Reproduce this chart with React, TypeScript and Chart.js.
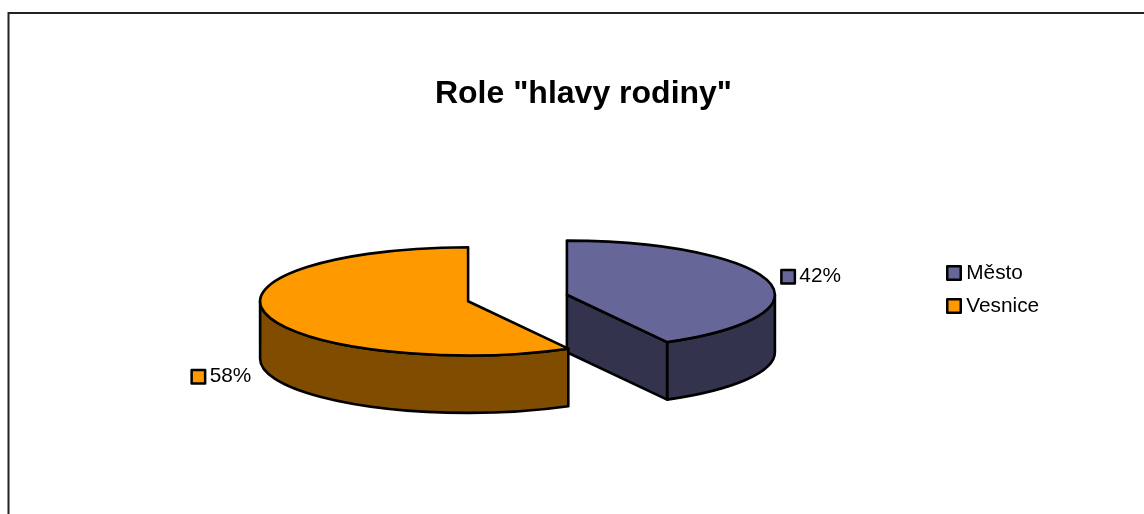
import React, { useEffect, useRef } from "react";
import { Chart, registerables } from "chart.js";

Chart.register(...registerables);

const categories = ["Město", "Vesnice"];
const shares = [42, 58];
const topColors = ["#666699", "#FF9900"];
const wallColors = ["#33334D", "#7F4C00"];
const titleText = 'Role "hlavy rodiny"';
const FONT = '"Liberation Sans", Arial, sans-serif';

const RADIUS = 208;
const SQUASH = 0.26;
const DEPTH = 57.5;
const EXPLODE = 51;
const PIE_X = 517.5;
const PIE_Y = 298;
const OUTLINE = 2.6;
const labelAnchors = [
  { dx: 13, dy: -4.5 },
  { dx: -75, dy: 62 },
];
const legendAnchor = { x: 947.25, y: 273, step: 33 };

let layoutY = 0;

function marker(ctx: CanvasRenderingContext2D, x: number, y: number, color: string) {
  ctx.fillStyle = color;
  ctx.strokeStyle = "#000";
  ctx.lineWidth = 2.5;
  ctx.fillRect(x, y - 6.75, 13.5, 13.5);
  ctx.strokeRect(x, y - 6.75, 13.5, 13.5);
}

const pie3d = {
  id: "pie3d",
  beforeDraw(chart: any) {
    const { ctx, width, height } = chart;
    ctx.save();
    ctx.fillStyle = "#fff";
    ctx.fillRect(0, 0, width, height);
    ctx.strokeStyle = "#222";
    ctx.lineWidth = 2;
    ctx.strokeRect(8.5, 13, width + 20, height + 20);
    ctx.restore();
  },
  afterDatasetsUpdate(chart: any) {
    const arcs = chart.getDatasetMeta(0).data;
    arcs.forEach((arc: any) => {
      if (arc.$exploded) return;
      layoutY = arc.y;
      const mid = (arc.startAngle + arc.endAngle) / 2;
      arc.x = PIE_X + EXPLODE * Math.cos(mid);
      arc.y = layoutY + EXPLODE * Math.sin(mid);
      arc.$exploded = true;
    });
  },
  beforeDatasetsDraw(chart: any) {
    const { ctx } = chart;
    const arcs = chart.getDatasetMeta(0).data;
    ctx.save();
    ctx.strokeStyle = "#000";
    ctx.lineWidth = OUTLINE;
    ctx.lineJoin = "round";
    arcs.forEach((arc: any, i: number) => {
      const sx = arc.x;
      const sy = PIE_Y + SQUASH * (arc.y - layoutY);
      const rx = arc.outerRadius;
      const ry = rx * SQUASH;
      ctx.fillStyle = wallColors[i];
      const a0 = Math.max(arc.startAngle, 0);
      const a1 = Math.min(arc.endAngle, Math.PI);
      if (a1 > a0) {
        ctx.beginPath();
        ctx.ellipse(sx, sy, rx, ry, 0, a0, a1);
        ctx.ellipse(sx, sy + DEPTH, rx, ry, 0, a1, a0, true);
        ctx.closePath();
        ctx.fill();
        ctx.stroke();
      }
      if (Math.cos(arc.endAngle) > 1e-6) {
        const px = sx + rx * Math.cos(arc.endAngle);
        const py = sy + ry * Math.sin(arc.endAngle);
        ctx.beginPath();
        ctx.moveTo(sx, sy);
        ctx.lineTo(px, py);
        ctx.lineTo(px, py + DEPTH);
        ctx.lineTo(sx, sy + DEPTH);
        ctx.closePath();
        ctx.fill();
        ctx.stroke();
      }
    });
    ctx.restore();
    ctx.save();
    ctx.translate(0, PIE_Y);
    ctx.scale(1, SQUASH);
    ctx.translate(0, -layoutY);
  },
  afterDatasetsDraw(chart: any) {
    const { ctx } = chart;
    ctx.restore();
    const arcs = chart.getDatasetMeta(0).data;
    ctx.save();
    ctx.strokeStyle = "#000";
    ctx.lineWidth = OUTLINE;
    ctx.lineJoin = "round";
    arcs.forEach((arc: any) => {
      const sx = arc.x;
      const sy = PIE_Y + SQUASH * (arc.y - layoutY);
      ctx.beginPath();
      ctx.moveTo(sx, sy);
      ctx.ellipse(sx, sy, arc.outerRadius, arc.outerRadius * SQUASH, 0, arc.startAngle, arc.endAngle);
      ctx.closePath();
      ctx.stroke();
    });
    ctx.font = `20.8px ${FONT}`;
    ctx.textBaseline = "middle";
    arcs.forEach((arc: any, i: number) => {
      const mid = (arc.startAngle + arc.endAngle) / 2;
      const sx = arc.x + arc.outerRadius * Math.cos(mid);
      const sy = PIE_Y + SQUASH * (arc.y - layoutY) + arc.outerRadius * SQUASH * Math.sin(mid);
      const x = sx + labelAnchors[i].dx;
      const y = sy + labelAnchors[i].dy;
      marker(ctx, x, y, topColors[i]);
      ctx.fillStyle = "#000";
      ctx.fillText(`${shares[i]}%`, x + 18, y);
    });
    categories.forEach((name, i) => {
      const y = legendAnchor.y + i * legendAnchor.step;
      marker(ctx, legendAnchor.x, y, topColors[i]);
      ctx.fillStyle = "#000";
      ctx.fillText(name, legendAnchor.x + 19, y);
    });
    ctx.restore();
  },
};

export default function App() {
  const ref = useRef<HTMLCanvasElement | null>(null);
  useEffect(() => {
    document.body.style.margin = "0";
    const chart = new Chart(ref.current as HTMLCanvasElement, {
      type: "pie",
      data: {
        labels: categories,
        datasets: [{ data: shares, backgroundColor: topColors, borderWidth: 0 }],
      },
      options: {
        responsive: false,
        animation: false,
        radius: RADIUS,
        layout: { padding: { left: 23, top: 75 } },
        plugins: {
          legend: { display: false },
          tooltip: { enabled: false },
          title: {
            display: true,
            text: titleText,
            color: "#000",
            font: { family: FONT, size: 32, weight: "bold" },
            padding: 0,
          },
        },
      },
      plugins: [pie3d],
    } as any);
    return () => chart.destroy();
  }, []);
  return <canvas ref={ref} width={1144} height={514} style={{ display: "block" }} />;
}
